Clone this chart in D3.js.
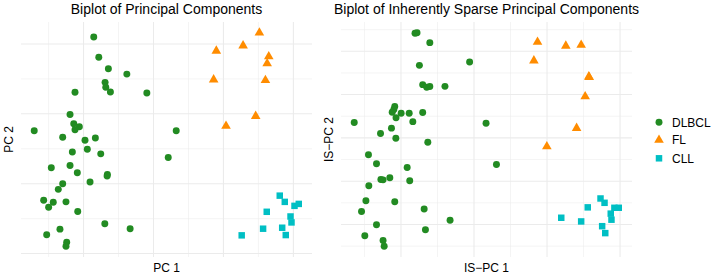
<!DOCTYPE html>
<html>
<head>
<meta charset="utf-8">
<script src="https://cdn.jsdelivr.net/npm/d3@7"></script>
<style>
  html, body { margin: 0; padding: 0; background: #ffffff; }
  svg { display: block; font-family: "Liberation Sans", Arial, Helvetica, sans-serif; }
</style>
</head>
<body>
<svg id="chart" width="713" height="275"></svg>
<script>
// ---------- Data ----------
const groups = ["DLBCL", "FL", "CLL"];
const groupColors = ["#228B22", "#FF8C00", "#00BFC4"];

// Left panel: PCA scores (PC 1, PC 2)
const pcDLBCL_x = [-8.54,-7.82,-6.45,-3.81,-6.92,-6.82,-6.16,-11.22,-0.95,-11.93,-11.40,-10.60,-11.22,-17.05,3.25,-12.98,-9.79,-8.31,-11.60,-9.46,-7.54,2.11,-14.61,-11.93,-10.89,-6.59,-6.63,-12.98,-13.61,-9.07,-15.70,-14.33,-14.99,-12.51,-10.83,-6.96,-3.34,-13.37,-15.27,-12.41,-12.51];
const pcDLBCL_y = [21.00,18.10,16.45,15.68,14.50,13.79,13.12,13.08,12.98,9.91,8.57,8.15,7.72,7.58,7.58,6.64,6.21,6.54,4.55,4.93,4.27,3.74,2.27,2.60,1.56,1.32,1.09,0.00,-0.81,0.24,-2.37,-2.66,-3.37,-2.60,-3.98,-5.73,-6.44,-6.50,-7.29,-8.39,-8.96];
const pcFL_x = [15.14,12.81,8.98,16.48,16.25,8.60,16.00,14.61,10.37];
const pcFL_y = [21.61,19.76,19.01,18.20,17.20,14.89,14.79,9.67,8.25];
const pcCLL_x = [18.05,18.77,20.16,20.77,16.19,19.59,19.73,15.67,18.40,18.91,12.61];
const pcCLL_y = [-1.71,-2.60,-3.17,-2.89,-4.02,-4.69,-5.54,-6.44,-6.30,-7.35,-7.39];

// Right panel: inherently sparse PCA scores (IS-PC 1, IS-PC 2)
const ispcDLBCL_x = [-3.23,-3.12,-2.42,-0.24,-2.99,-2.81,-2.59,-2.42,-1.59,-4.34,-4.39,-4.48,-3.99,-3.55,-2.81,-4.27,-6.56,-3.35,0.66,-4.52,-5.12,-4.28,-2.53,-5.78,-5.34,-3.66,1.23,-5.10,-4.98,-4.61,-3.52,-5.76,-5.92,-4.34,-6.16,-2.73,-1.31,-5.34,-2.66,-5.98,-4.98,-4.92];
const ispcDLBCL_y = [6.83,6.86,6.40,5.51,5.35,4.46,4.34,4.37,4.38,3.45,3.31,3.18,3.14,3.14,3.17,2.93,2.71,2.75,2.68,2.45,2.20,1.98,1.80,1.22,0.80,0.63,0.77,0.08,0.06,0.16,0.02,-0.21,-0.90,-0.95,-1.40,-1.29,-1.81,-2.01,-2.24,-2.52,-2.74,-3.01];
const ispcFL_x = [3.48,5.03,5.87,3.28,6.29,6.31,6.09,5.62,3.99];
const ispcFL_y = [6.43,6.25,6.29,5.57,4.83,4.80,3.91,2.45,1.60];
const ispcCLL_x = [6.93,7.15,6.23,7.69,7.93,7.49,7.53,4.78,5.87,7.02,7.19];
const ispcCLL_y = [-0.80,-1.00,-1.21,-1.23,-1.23,-1.50,-1.78,-1.69,-1.86,-2.08,-2.40];

const titles = ["Biplot of Principal Components", "Biplot of Inherently Sparse Principal Components"];
const xTitles = ["PC 1", "IS\u2212PC 1"];
const yTitles = ["PC 2", "IS\u2212PC 2"];
const xGridStep = [5, 2];
const yGridStep = [5, 1];

// ---------- Build ----------
function zip(xs, ys, g) { return xs.map((x, i) => ({ x, y: ys[i], g })); }
const panels = [
  [].concat(zip(pcDLBCL_x, pcDLBCL_y, 0), zip(pcFL_x, pcFL_y, 1), zip(pcCLL_x, pcCLL_y, 2)),
  [].concat(zip(ispcDLBCL_x, ispcDLBCL_y, 0), zip(ispcFL_x, ispcFL_y, 1), zip(ispcCLL_x, ispcCLL_y, 2))
];

const svg = d3.select("#chart");
const panelBoxes = [
  { x0: 21, x1: 312, y0: 22, y1: 257 },
  { x0: 341, x1: 632, y0: 22, y1: 257 }
];

const symbolTypes = [d3.symbolCircle, d3.symbolTriangle, d3.symbolSquare];
const symbolSizes = [38, 40, 42];

function expand(ext) {
  const r = ext[1] - ext[0];
  return [ext[0] - 0.05 * r, ext[1] + 0.05 * r];
}

panels.forEach((data, p) => {
  const b = panelBoxes[p];
  const x = d3.scaleLinear().domain(expand(d3.extent(data, d => d.x))).range([b.x0, b.x1]);
  const y = d3.scaleLinear().domain(expand(d3.extent(data, d => d.y))).range([b.y1, b.y0]);
  const g = svg.append("g");

  // grid lines (alternating major/minor)
  const xs = x.domain(), ys = y.domain();
  const xt = d3.range(Math.ceil(xs[0] / xGridStep[p]) * xGridStep[p], xs[1] + 1e-9, xGridStep[p]);
  const yt = d3.range(Math.ceil(ys[0] / yGridStep[p]) * yGridStep[p], ys[1] + 1e-9, yGridStep[p]);
  g.selectAll(".vg").data(xt).join("line")
    .attr("x1", d => x(d)).attr("x2", d => x(d))
    .attr("y1", b.y0).attr("y2", b.y1)
    .attr("stroke", "#EBEBEB")
    .attr("stroke-width", d => (Math.round(d / xGridStep[p]) % 2 === 0) ? 1.07 : 0.55);
  g.selectAll(".hg").data(yt).join("line")
    .attr("x1", b.x0).attr("x2", b.x1)
    .attr("y1", d => y(d)).attr("y2", d => y(d))
    .attr("stroke", "#EBEBEB")
    .attr("stroke-width", d => (Math.round(d / yGridStep[p]) % 2 === 0) ? 1.07 : 0.55);

  // points
  g.selectAll(".pt").data(data).join("path")
    .attr("transform", d => `translate(${x(d.x)},${y(d.y)})`)
    .attr("d", d => d3.symbol().type(symbolTypes[d.g]).size(symbolSizes[d.g])())
    .attr("fill", d => groupColors[d.g]);

  const cx = (b.x0 + b.x1) / 2, cy = (b.y0 + b.y1) / 2;
  svg.append("text").attr("x", cx).attr("y", 14).attr("text-anchor", "middle")
    .attr("font-size", 14).attr("fill", "#000").text(titles[p]);
  svg.append("text").attr("x", cx).attr("y", 271.5).attr("text-anchor", "middle")
    .attr("font-size", 12).attr("fill", "#000").text(xTitles[p]);
  svg.append("text").attr("transform", `translate(${b.x0 - 8},${cy}) rotate(-90)`)
    .attr("text-anchor", "middle").attr("font-size", 12).attr("fill", "#000").text(yTitles[p]);
});

// legend
const legY = [122.3, 140, 158.3];
const leg = svg.append("g");
groups.forEach((name, i) => {
  leg.append("path")
    .attr("transform", `translate(659,${legY[i]})`)
    .attr("d", d3.symbol().type(symbolTypes[i]).size(symbolSizes[i])())
    .attr("fill", groupColors[i]);
  leg.append("text").attr("x", 672).attr("y", legY[i] + 4.2)
    .attr("font-size", 12).attr("fill", "#000").text(name);
});
</script>
</body>
</html>
